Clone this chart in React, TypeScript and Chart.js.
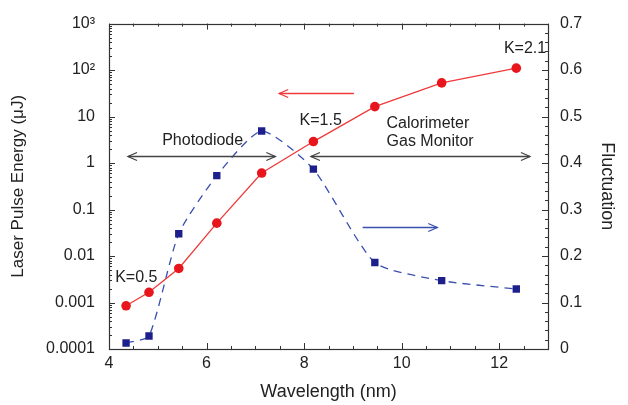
import React, { useEffect, useRef } from "react";
import { Chart, registerables } from "chart.js";

Chart.register(...registerables);

// ---- data ----
const wavelength = [4.35, 4.82, 5.43, 6.21, 7.13, 8.19, 9.45, 10.82, 12.35];
const pulseEnergy = [0.00085, 0.00166, 0.0054, 0.051, 0.61, 2.9, 16.4, 53, 110];
const fluctuation = [0.013, 0.028, 0.248, 0.373, 0.469, 0.387, 0.186, 0.147, 0.129];

const xTicks = [4, 6, 8, 10, 12];
const xTickLabels = ["4", "6", "8", "10", "12"];
const energyTicks = [0.0001, 0.001, 0.01, 0.1, 1, 10, 100, 1000];
const energyTickLabels = ["0.0001", "0.001", "0.01", "0.1", "1", "10", "10²", "10³"];
const fluctTicks = [0, 0.1, 0.2, 0.3, 0.4, 0.5, 0.6, 0.7];
const fluctTickLabels = ["0", "0.1", "0.2", "0.3", "0.4", "0.5", "0.6", "0.7"];

// annotations (data coordinates)
const labelTexts = ["Photodiode", "K=1.5", "Calorimeter", "Gas Monitor", "K=2.1", "K=0.5"];
const labelX = [5.92, 8.34, 9.69, 9.69, 12.53, 4.56];
const labelY = [3.0, 8, 6.9, 2.9, 283, 0.0035];
const labelAlign = ["center", "center", "left", "left", "center", "center"];

const arrowX1 = [4.39, 8.14, 9.02, 9.2];
const arrowX2 = [7.41, 12.63, 7.49, 10.73];
const arrowY = [1.4, 1.4, 32, 0.262];
const arrowAxis = ["yE", "yE", "yE", "yF"];
const arrowBoth = [true, true, false, false];

const RED = "#e8161c";
const RED_LINE = "#ee3a3a";
const BLUE = "#1c1f8c";
const BLUE_LINE = "#3a4fb0";
const GREY = "#444444";
const TEXT = "#222222";
const FONT = "'Liberation Sans', Arial, Helvetica, sans-serif";
const arrowColors = [GREY, GREY, RED_LINE, BLUE_LINE];

function head(ctx: CanvasRenderingContext2D, tx: number, ty: number, dir: number) {
  const L = 9, W = 4;
  ctx.beginPath();
  ctx.moveTo(tx - dir * L, ty - W);
  ctx.lineTo(tx, ty);
  ctx.lineTo(tx - dir * L, ty + W);
  ctx.stroke();
}

const decorPlugin = {
  id: "decor",
  afterDatasetsDraw(chart: any) {
    const ctx: CanvasRenderingContext2D = chart.ctx;
    const { left, right, top, bottom } = chart.chartArea;
    const xs = chart.scales.x;
    const yE = chart.scales.yE;
    const yF = chart.scales.yF;
    ctx.save();
    // arrows
    ctx.lineWidth = 1.3;
    for (let i = 0; i < arrowX1.length; i++) {
      const sc = chart.scales[arrowAxis[i]];
      const x1 = xs.getPixelForValue(arrowX1[i]);
      const x2 = xs.getPixelForValue(arrowX2[i]);
      const y = Math.round(sc.getPixelForValue(arrowY[i])) + 0.5;
      ctx.strokeStyle = arrowColors[i];
      ctx.beginPath();
      ctx.moveTo(x1, y);
      ctx.lineTo(x2, y);
      ctx.stroke();
      const dir = x2 > x1 ? 1 : -1;
      head(ctx, x2, y, dir);
      if (arrowBoth[i]) head(ctx, x1, y, -dir);
    }
    // texts
    ctx.fillStyle = TEXT;
    ctx.font = `16px ${FONT}`;
    ctx.textBaseline = "middle";
    for (let i = 0; i < labelTexts.length; i++) {
      ctx.textAlign = labelAlign[i] as CanvasTextAlign;
      ctx.fillText(labelTexts[i], xs.getPixelForValue(labelX[i]), yE.getPixelForValue(labelY[i]));
    }
    // frame
    ctx.strokeStyle = "#333";
    ctx.lineWidth = 1.2;
    ctx.strokeRect(Math.round(left) + 0.5, Math.round(top) + 0.5, Math.round(right - left), Math.round(bottom - top));
    // inward ticks
    ctx.lineWidth = 1;
    const line = (x1: number, y1: number, x2: number, y2: number) => {
      ctx.beginPath();
      ctx.moveTo(x1, y1);
      ctx.lineTo(x2, y2);
      ctx.stroke();
    };
    for (let v = 4; v <= 13.001; v += 0.5) {
      const px = Math.round(xs.getPixelForValue(v)) + 0.5;
      const len = Math.abs(v % 2) < 1e-6 ? 6 : 3;
      line(px, bottom, px, bottom - len);
      line(px, top, px, top + len);
    }
    for (let e = -4; e <= 3; e++) {
      for (let m = 1; m <= 9; m++) {
        if (e === 3 && m > 1) break;
        const v = m * Math.pow(10, e);
        const py = Math.round(yE.getPixelForValue(v)) + 0.5;
        const len = m === 1 ? 6 : 3;
        line(left, py, left + len, py);
      }
    }
    for (let i = 0; i <= 35; i++) {
      const py = Math.round(yF.getPixelForValue(i * 0.02)) + 0.5;
      const len = i % 5 === 0 ? 6 : 3;
      line(right, py, right - len, py);
    }
    ctx.restore();
  },
};

export default function App() {
  const ref = useRef<HTMLCanvasElement>(null);
  useEffect(() => {
    const tickFont = { family: FONT, size: 16 };
    const noGrid = { display: false, drawTicks: false, drawOnChartArea: false };
    const chart = new Chart(ref.current as HTMLCanvasElement, {
      type: "line",
      data: {
        datasets: [
          {
            label: "Laser Pulse Energy",
            data: wavelength.map((x, i) => ({ x, y: pulseEnergy[i] })),
            yAxisID: "yE",
            borderColor: RED_LINE,
            backgroundColor: RED,
            borderWidth: 1.3,
            pointStyle: "circle",
            pointRadius: 4.8,
            pointBorderWidth: 0,
            tension: 0,
          },
          {
            label: "Fluctuation",
            data: wavelength.map((x, i) => ({ x, y: fluctuation[i] })),
            yAxisID: "yF",
            borderColor: BLUE_LINE,
            backgroundColor: BLUE,
            borderWidth: 1.3,
            borderDash: [8, 6],
            pointStyle: "rect",
            pointRadius: 5.2,
            pointBorderWidth: 0,
            tension: 0.2,
          },
        ],
      },
      options: {
        animation: false,
        responsive: false,
        devicePixelRatio: 1,
        layout: { padding: { top: 15, left: 0, right: 0, bottom: 0 } },
        plugins: { legend: { display: false }, tooltip: { enabled: false } },
        scales: {
          x: {
            type: "linear",
            position: "bottom",
            min: 4,
            max: 13,
            afterBuildTicks: (s: any) => {
              s.ticks = xTicks.map((v) => ({ value: v }));
            },
            afterFit: (s: any) => {
              s.height = 56;
            },
            ticks: {
              callback: (_v: any, i: number) => xTickLabels[i],
              font: tickFont,
              color: TEXT,
              padding: 5,
              maxRotation: 0,
              autoSkip: false,
            },
            grid: noGrid,
            border: { display: false },
            title: {
              display: true,
              text: "Wavelength (nm)",
              font: { family: FONT, size: 18 },
              color: TEXT,
              padding: { top: 0, bottom: 2 },
            },
          },
          yE: {
            type: "logarithmic",
            position: "left",
            min: 0.0001,
            max: 1000,
            afterBuildTicks: (s: any) => {
              s.ticks = energyTicks.map((v) => ({ value: v }));
            },
            afterFit: (s: any) => {
              s.width = 109;
            },
            ticks: {
              callback: (_v: any, i: number) => energyTickLabels[i],
              font: tickFont,
              color: TEXT,
              padding: 14,
              autoSkip: false,
            },
            grid: noGrid,
            border: { display: false },
            title: {
              display: true,
              text: "Laser Pulse Energy (μJ)",
              font: { family: FONT, size: 17 },
              color: TEXT,
              padding: { top: 8, bottom: 0 },
            },
          },
          yF: {
            type: "linear",
            position: "right",
            min: 0,
            max: 0.7,
            afterBuildTicks: (s: any) => {
              s.ticks = fluctTicks.map((v) => ({ value: v }));
            },
            afterFit: (s: any) => {
              s.width = 80;
            },
            ticks: {
              callback: (_v: any, i: number) => fluctTickLabels[i],
              font: tickFont,
              color: TEXT,
              padding: 12,
              autoSkip: false,
            },
            grid: noGrid,
            border: { display: false },
            title: {
              display: true,
              text: "Fluctuation",
              font: { family: FONT, size: 18 },
              color: TEXT,
              padding: { top: 10, bottom: 0 },
            },
          },
        },
      },
      plugins: [decorPlugin],
    } as any);
    return () => chart.destroy();
  }, []);
  return (
    <div style={{ position: "absolute", left: 0, top: 0, width: 628, height: 405, background: "#fff" }}>
      <canvas ref={ref} width={628} height={405} style={{ display: "block", width: 628, height: 405 }} />
    </div>
  );
}
